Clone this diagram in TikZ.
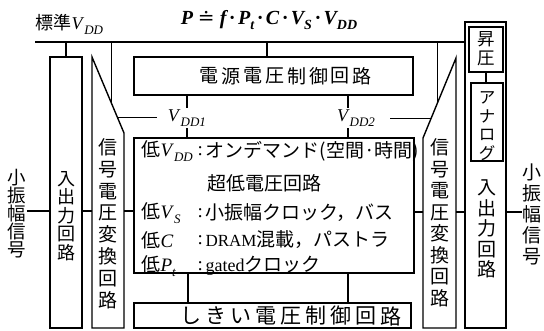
\documentclass[tikz,border=0pt]{standalone}
\usepackage{fontspec}
\setmainfont{Liberation Serif}
\newfontfamily\jp{Noto Sans CJK JP}
\newfontfamily\symf{DejaVu Serif}
\usetikzlibrary{calc}
\newcommand{\sbs}[2]{\raisebox{-0.28em}{\fontsize{#1}{#1}\selectfont\itshape #2}}
\newcommand{\fsz}[1]{\fontsize{#1}{#1}\selectfont}
\begin{document}
\begin{tikzpicture}[x=1pt,y=-1pt,line width=1.2pt,
  box/.style={draw,line width=1.4pt,inner sep=0pt,rectangle},
  vtxt/.style 2 args={align=center,inner sep=0pt,font=\jp\fontsize{#1}{#2}\selectfont},
  rowl/.style={anchor=west,inner sep=0pt,font=\fsz{19}},
  rowj/.style={anchor=west,inner sep=0pt,font=\jp\fsz{19}},
  chr/.style={inner sep=0pt,font=\jp\fsz{#1}},
  sig/.style={draw,line width=1.4pt,line join=miter}]
\useasboundingbox (0,0) rectangle (544,330);

% formula and standard VDD label
\node[inner sep=0pt] (formula) at (269,20) {\fsz{20}\bfseries\itshape P\kern5pt{\symf\upshape\mdseries ≐}\kern5pt f\,·\,P\sbs{14}{t}\,·\,C\,·\,V\sbs{14}{S}\,·\,V\sbs{14}{DD}};
\node[anchor=west,inner sep=0pt] (stdv) at (35,24) {{\jp\fsz{18}標準}\fsz{18}\textit{V}\sbs{13}{DD}};

% boxes
\node[box,minimum width=32,minimum height=271] (lio) at (66,192.5) {};
\node[box,minimum width=41,minimum height=306] (rio) at (485.5,175) {};
\node[box,minimum width=34,minimum height=45] (boost) at (486,49.5) {};
\node[box,minimum width=32,minimum height=78] (analog) at (487,122) {};
\node[box,minimum width=279,minimum height=38] (pwr) at (273.5,76) {};
\node[box,minimum width=280,minimum height=135] (main) at (274,205.5) {};
\node[box,minimum width=277,minimum height=25] (vth) at (272.5,315.5) {};

% signal converter shapes
\coordinate (lsTL) at (92,57);
\coordinate (lsBL) at (92,328);
\coordinate (lsBR) at (124,328);
\coordinate (lsR) at (124,133);
\draw[sig] (lsTL) -- (lsBL) -- (lsBR) -- (lsR) -- cycle;
\coordinate (rsTR) at (456,58);
\coordinate (rsBR) at (456,328);
\coordinate (rsBL) at (423,328);
\coordinate (rsL) at (423,138);
\draw[sig] (rsTR) -- (rsBR) -- (rsBL) -- (rsL) -- cycle;
\path (lsTL) -- (lsR) coordinate[pos=0.6] (lsd0) coordinate[pos=0.8] (lsd1);
\path (rsTR) -- (rsL) coordinate[pos=0.55] (rsd0) coordinate[pos=0.76] (rsd1);

% vertical texts
\node[vtxt={18.5}{18}] (lsw) at (17,214) {小\\振\\幅\\信\\号};
\node[vtxt={19}{21}] (rsw) at (532,214) {小\\振\\幅\\信\\号};
\node[vtxt={18}{18.5}] (liot) at (66,216) {入\\出\\力\\回\\路};
\node[vtxt={19}{20.5}] (riot) at (487,229) {入\\出\\力\\回\\路};
\node[vtxt={19}{21.8}] (lst) at (108,223.5) {信\\号\\電\\圧\\変\\換\\回\\路};
\node[vtxt={19}{21.5}] (rst) at (439.5,223) {信\\号\\電\\圧\\変\\換\\回\\路};
\node[vtxt={17.5}{19}] (boostt) at (486,48.5) {昇\\圧};
\node[vtxt={16.5}{18.5}] (analogt) at (487,126) {ア\\ナ\\ロ\\グ};

% box texts, one character at a time
\foreach \c [count=\i from 0] in {電,源,電,圧,制,御,回,路}
  \node[chr=19] (pwrc\i) at (209+21.9*\i,76) {\c};
\foreach \c [count=\i from 0] in {し,き,い,電,圧,制,御,回,路}
  \node[chr=21] (vthc\i) at (191+25*\i,316) {\c};

% main box rows
\node[rowl] (r1l) at (141,151) {{\jp 低}\textit{V}\sbs{13}{DD}};
\node[rowl] (r1c) at (197,151) {:};
\node[rowj] (r1t) at (205,151) {オンデマンド(空間·時間)};
\node[rowj] (r2t) at (207,183) {超低電圧回路};
\node[rowl] (r3l) at (141,213) {{\jp 低}\textit{V}\sbs{13}{S}};
\node[rowl] (r3c) at (197,213) {:};
\node[rowj] (r3t) at (205,213) {小振幅クロック，バス};
\node[rowl] (r4l) at (141,240) {{\jp 低}\textit{C}};
\node[rowl] (r4c) at (197,240) {:};
\node[rowl] (r4t) at (205,240) {{\fsz{17}DRAM}{\jp 混載，パストラ}};
\node[rowl] (r5l) at (141,266) {{\jp 低}\textit{P}\sbs{13}{t}};
\node[rowl] (r5c) at (197,266) {:};
\node[rowl] (r5t) at (205,266) {{\fsz{18}gated}{\jp クロック}};

% VDD1 / VDD2 labels
\node[inner sep=1pt] (v1) at (187,118) {\fsz{18}\textit{V}\sbs{13}{DD1}};
\node[inner sep=1pt] (v2) at (356,118) {\fsz{18}\textit{V}\sbs{13}{DD2}};
\coordinate (c1) at (187,0);
\coordinate (c2) at (348,0);
\coordinate (c3) at (267,0);
\coordinate (b1) at (188,0);
\coordinate (b2) at (348,0);

% bus
\coordinate (busL) at (35,42);
\draw (busL) -- (busL -| rio.west);
\draw (lio.north |- busL) -- (lio.north);
\draw (lsd0 |- busL) -- (lsd0);
\draw (c3 |- busL) -- (pwr.north -| c3);
\draw (rsd0 |- busL) -- (rsd0);

% supply connectors
\draw (pwr.south -| c1) -- (v1.north -| c1);
\draw (v1.south -| c1) -- (main.north -| c1);
\draw (pwr.south -| c2) -- (v2.north -| c2);
\draw (v2.south -| c2) -- (main.north -| c2);
\draw (lsd1) -- ([xshift=-9pt]lsd1 -| v1.west);
\draw (rsd1) -- ([xshift=13pt]rsd1 -| v2.east);
\draw (main.south -| b1) -- (vth.north -| b1);
\draw (main.south -| b2) -- (vth.north -| b2);
\draw (boost.south) -- (boost.south |- analog.north);

% signal connectors
\coordinate (lv) at (0,211);
\coordinate (rv) at (0,212);
\draw (lsw.east |- lv) -- (lio.west |- lv);
\draw (lio.east |- lv) -- (lsBL |- lv);
\draw (lsBR |- lv) -- (main.west |- lv);
\draw (main.east |- rv) -- (rsBL |- rv);
\draw (rsBR |- rv) -- (rio.west |- rv);
\draw (rio.east |- rv) -- (rsw.west |- rv);
\end{tikzpicture}
\end{document}
